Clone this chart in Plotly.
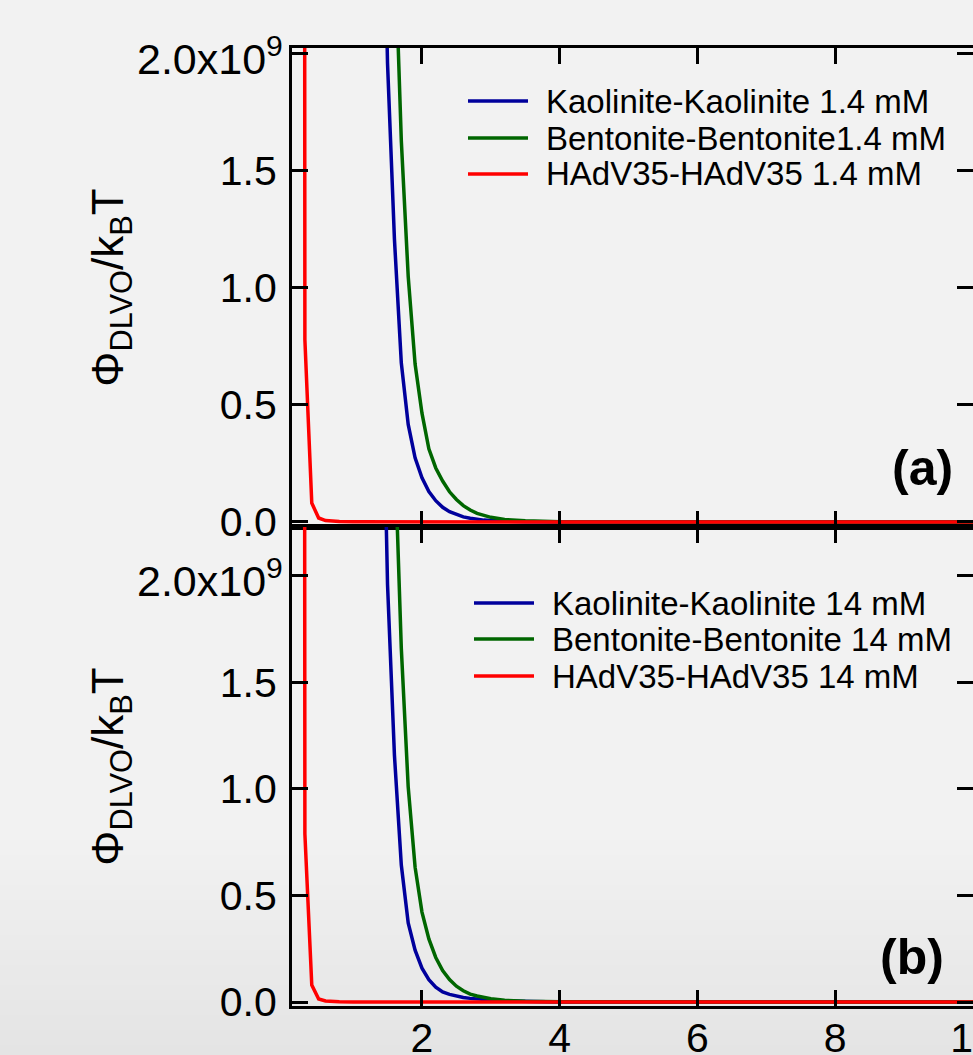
import plotly.graph_objects as go
from plotly.subplots import make_subplots

# ---------------- data ----------------
# separation distance (nm) for the virus curves
red_x = [0.2, 0.3, 0.4, 0.5, 0.6, 0.7, 0.8, 1.0, 2.0, 4.0, 6.0, 8.0, 10.0]
red_a = [5.0e10, 0.78e9, 0.081e9, 0.017e9, 0.006e9, 0.003e9, 0.002e9, 0.001e9, 0.0, 0.0, 0.0, 0.0, 0.0]
red_b = [5.0e10, 0.79e9, 0.080e9, 0.014e9, 0.005e9, 0.002e9, 0.001e9, 0.0005e9, 0.0, 0.0, 0.0, 0.0, 0.0]

# separation distance (nm) for the clay curves
clay_x = [1.4, 1.5, 1.6, 1.7, 1.8, 1.9, 2.0, 2.1, 2.2, 2.3, 2.4, 2.5, 2.6, 2.7, 2.8, 2.9,
          3.0, 3.2, 3.5, 4.0, 5.0, 6.0, 8.0, 10.0]
blue_a = [3.3e9, 1.96e9, 1.21e9, 0.68e9, 0.417e9, 0.274e9, 0.189e9, 0.130e9, 0.091e9, 0.063e9,
          0.044e9, 0.031e9, 0.022e9, 0.016e9, 0.011e9, 0.008e9, 0.006e9, 0.003e9, 0.001e9,
          0.0003e9, 0.0, 0.0, 0.0, 0.0]
green_a = [8.0e9, 4.0e9, 2.52e9, 1.63e9, 1.05e9, 0.675e9, 0.465e9, 0.313e9, 0.231e9, 0.175e9,
           0.129e9, 0.096e9, 0.070e9, 0.051e9, 0.037e9, 0.027e9, 0.020e9, 0.011e9, 0.005e9,
           0.001e9, 0.0, 0.0, 0.0, 0.0]
blue_b = [3.5e9, 1.96e9, 1.16e9, 0.643e9, 0.371e9, 0.243e9, 0.159e9, 0.105e9, 0.070e9, 0.047e9,
          0.036e9, 0.028e9, 0.021e9, 0.017e9, 0.013e9, 0.011e9, 0.009e9, 0.005e9, 0.002e9,
          0.0005e9, 0.0, 0.0, 0.0, 0.0]
green_b = [8.0e9, 4.2e9, 2.64e9, 1.66e9, 1.01e9, 0.633e9, 0.422e9, 0.296e9, 0.209e9, 0.148e9,
           0.105e9, 0.074e9, 0.053e9, 0.037e9, 0.028e9, 0.021e9, 0.015e9, 0.008e9, 0.003e9,
           0.0008e9, 0.0, 0.0, 0.0, 0.0]

names_a = ["Kaolinite-Kaolinite 1.4 mM", "Bentonite-Bentonite1.4 mM", "HAdV35-HAdV35 1.4 mM"]
names_b = ["Kaolinite-Kaolinite 14 mM", "Bentonite-Bentonite 14 mM", "HAdV35-HAdV35 14 mM"]
panel_labels = ["(a)", "(b)"]

x_ticks = [2, 4, 6, 8, 10]
y_ticks = [0.0, 0.5e9, 1.0e9, 1.5e9, 2.0e9]
y_ticktext = ["0.0", "0.5", "1.0", "1.5", ""]
y_top_label = "2.0x10<sup>9</sup>"   # label of the 2.0e9 tick, drawn slightly lower as in the original

# ---------------- style ----------------
BLUE = "#00009c"
GREEN = "#006600"
RED = "#ff0000"
FONT = "Liberation Sans, Arial, sans-serif"
W, H = 973, 1055
ML, MR, MT, MB = 292, 0, 48, 49
PW, PH = W - ML - MR, H - MT - MB


def px(xp):
    return (xp - ML) / PW


def py(yp):
    return (H - MB - yp) / PH


fig = make_subplots(rows=2, cols=1, vertical_spacing=0)

for row, (bx, gx, rx) in enumerate([(blue_a, green_a, red_a), (blue_b, green_b, red_b)], start=1):
    names = names_a if row == 1 else names_b
    fig.add_trace(go.Scatter(x=clay_x, y=bx, mode="lines", name=names[0],
                             line=dict(color=BLUE, width=3.5)), row=row, col=1)
    fig.add_trace(go.Scatter(x=clay_x, y=gx, mode="lines", name=names[1],
                             line=dict(color=GREEN, width=3.5)), row=row, col=1)
    fig.add_trace(go.Scatter(x=red_x, y=rx, mode="lines", name=names[2],
                             line=dict(color=RED, width=3.5)), row=row, col=1)

axis_common = dict(showline=True, linewidth=3, linecolor="black", mirror="ticks",
                   ticks="inside", ticklen=16, tickwidth=3, tickcolor="black",
                   showgrid=False, zeroline=False,
                   tickfont=dict(family=FONT, size=41, color="black"))

fig.update_xaxes(range=[0.113, 10.0], tickvals=x_ticks, ticktext=[str(v) for v in x_ticks],
                 ticklabeloverflow="allow", ticklabelstandoff=-6, **axis_common)
fig.update_xaxes(showticklabels=False, row=1, col=1)
fig.update_yaxes(tickvals=y_ticks, ticktext=y_ticktext, ticklabelstandoff=4,
                 ticklabeloverflow="allow",
                 title=dict(text="Φ<sub>DLVO</sub>/k<sub>B</sub>T",
                            font=dict(family=FONT, size=44, color="black"), standoff=83),
                 **axis_common)
fig.update_yaxes(range=[-0.0214e9, 2.0256e9], row=1, col=1)
fig.update_yaxes(range=[-0.0188e9, 2.230e9], row=2, col=1)

shapes = []
annotations = []
# background gradient toward the bottom of the page
n_band = 45
y_start, y_end = 830, H
for i in range(n_band):
    y0p = y_start + (y_end - y_start) * i / n_band
    y1p = y_start + (y_end - y_start) * (i + 1) / n_band + 1
    g = int(round(242 - 14 * (i + 0.5) / n_band))
    shapes.append(dict(type="rect", xref="paper", yref="paper", x0=-1, x1=1.5,
                       y0=py(y1p), y1=py(y0p), fillcolor=f"rgb({g},{g},{g})",
                       line=dict(width=0), layer="below"))

# top tick label of each y axis (placed on the 2.0e9 value of that axis)
for yref in ["y", "y2"]:
    annotations.append(dict(xref="paper", yref=yref, x=px(285), y=y_ticks[-1],
                            xanchor="right", yanchor="middle", yshift=-2,
                            text=y_top_label, showarrow=False,
                            font=dict(family=FONT, size=43, color="black")))

# custom legends
legend_specs = [
    (names_a, 468, 528, 544, [101, 138, 174]),
    (names_b, 474, 534, 550, [603, 639, 676]),
]
for names, lx0, lx1, tx, rows in legend_specs:
    for name, col, yr in zip(names, [BLUE, GREEN, RED], rows):
        shapes.append(dict(type="line", xref="paper", yref="paper", x0=px(lx0), x1=px(lx1),
                           y0=py(yr), y1=py(yr), line=dict(color=col, width=3.5)))
        annotations.append(dict(xref="paper", yref="paper", x=px(tx), y=py(yr),
                                xanchor="left", yanchor="middle", text=name, showarrow=False,
                                font=dict(family=FONT, size=33, color="black")))

# panel labels
for lab, xc, yc in zip(panel_labels, [922, 912], [468, 957]):
    annotations.append(dict(xref="paper", yref="paper", x=px(xc), y=py(yc),
                            xanchor="center", yanchor="middle", text=f"<b>{lab}</b>",
                            showarrow=False, font=dict(family=FONT, size=50, color="black")))

fig.update_layout(width=W, height=H, margin=dict(l=ML, r=MR, t=MT, b=MB, autoexpand=False),
                  paper_bgcolor="#f2f2f2", plot_bgcolor="rgba(0,0,0,0)",
                  showlegend=False, shapes=shapes, annotations=annotations,
                  font=dict(family=FONT, color="black"))

fig.write_html("out.html", config={"displayModeBar": False},
               post_script="document.body.style.margin='0';document.body.style.overflow='hidden';")
